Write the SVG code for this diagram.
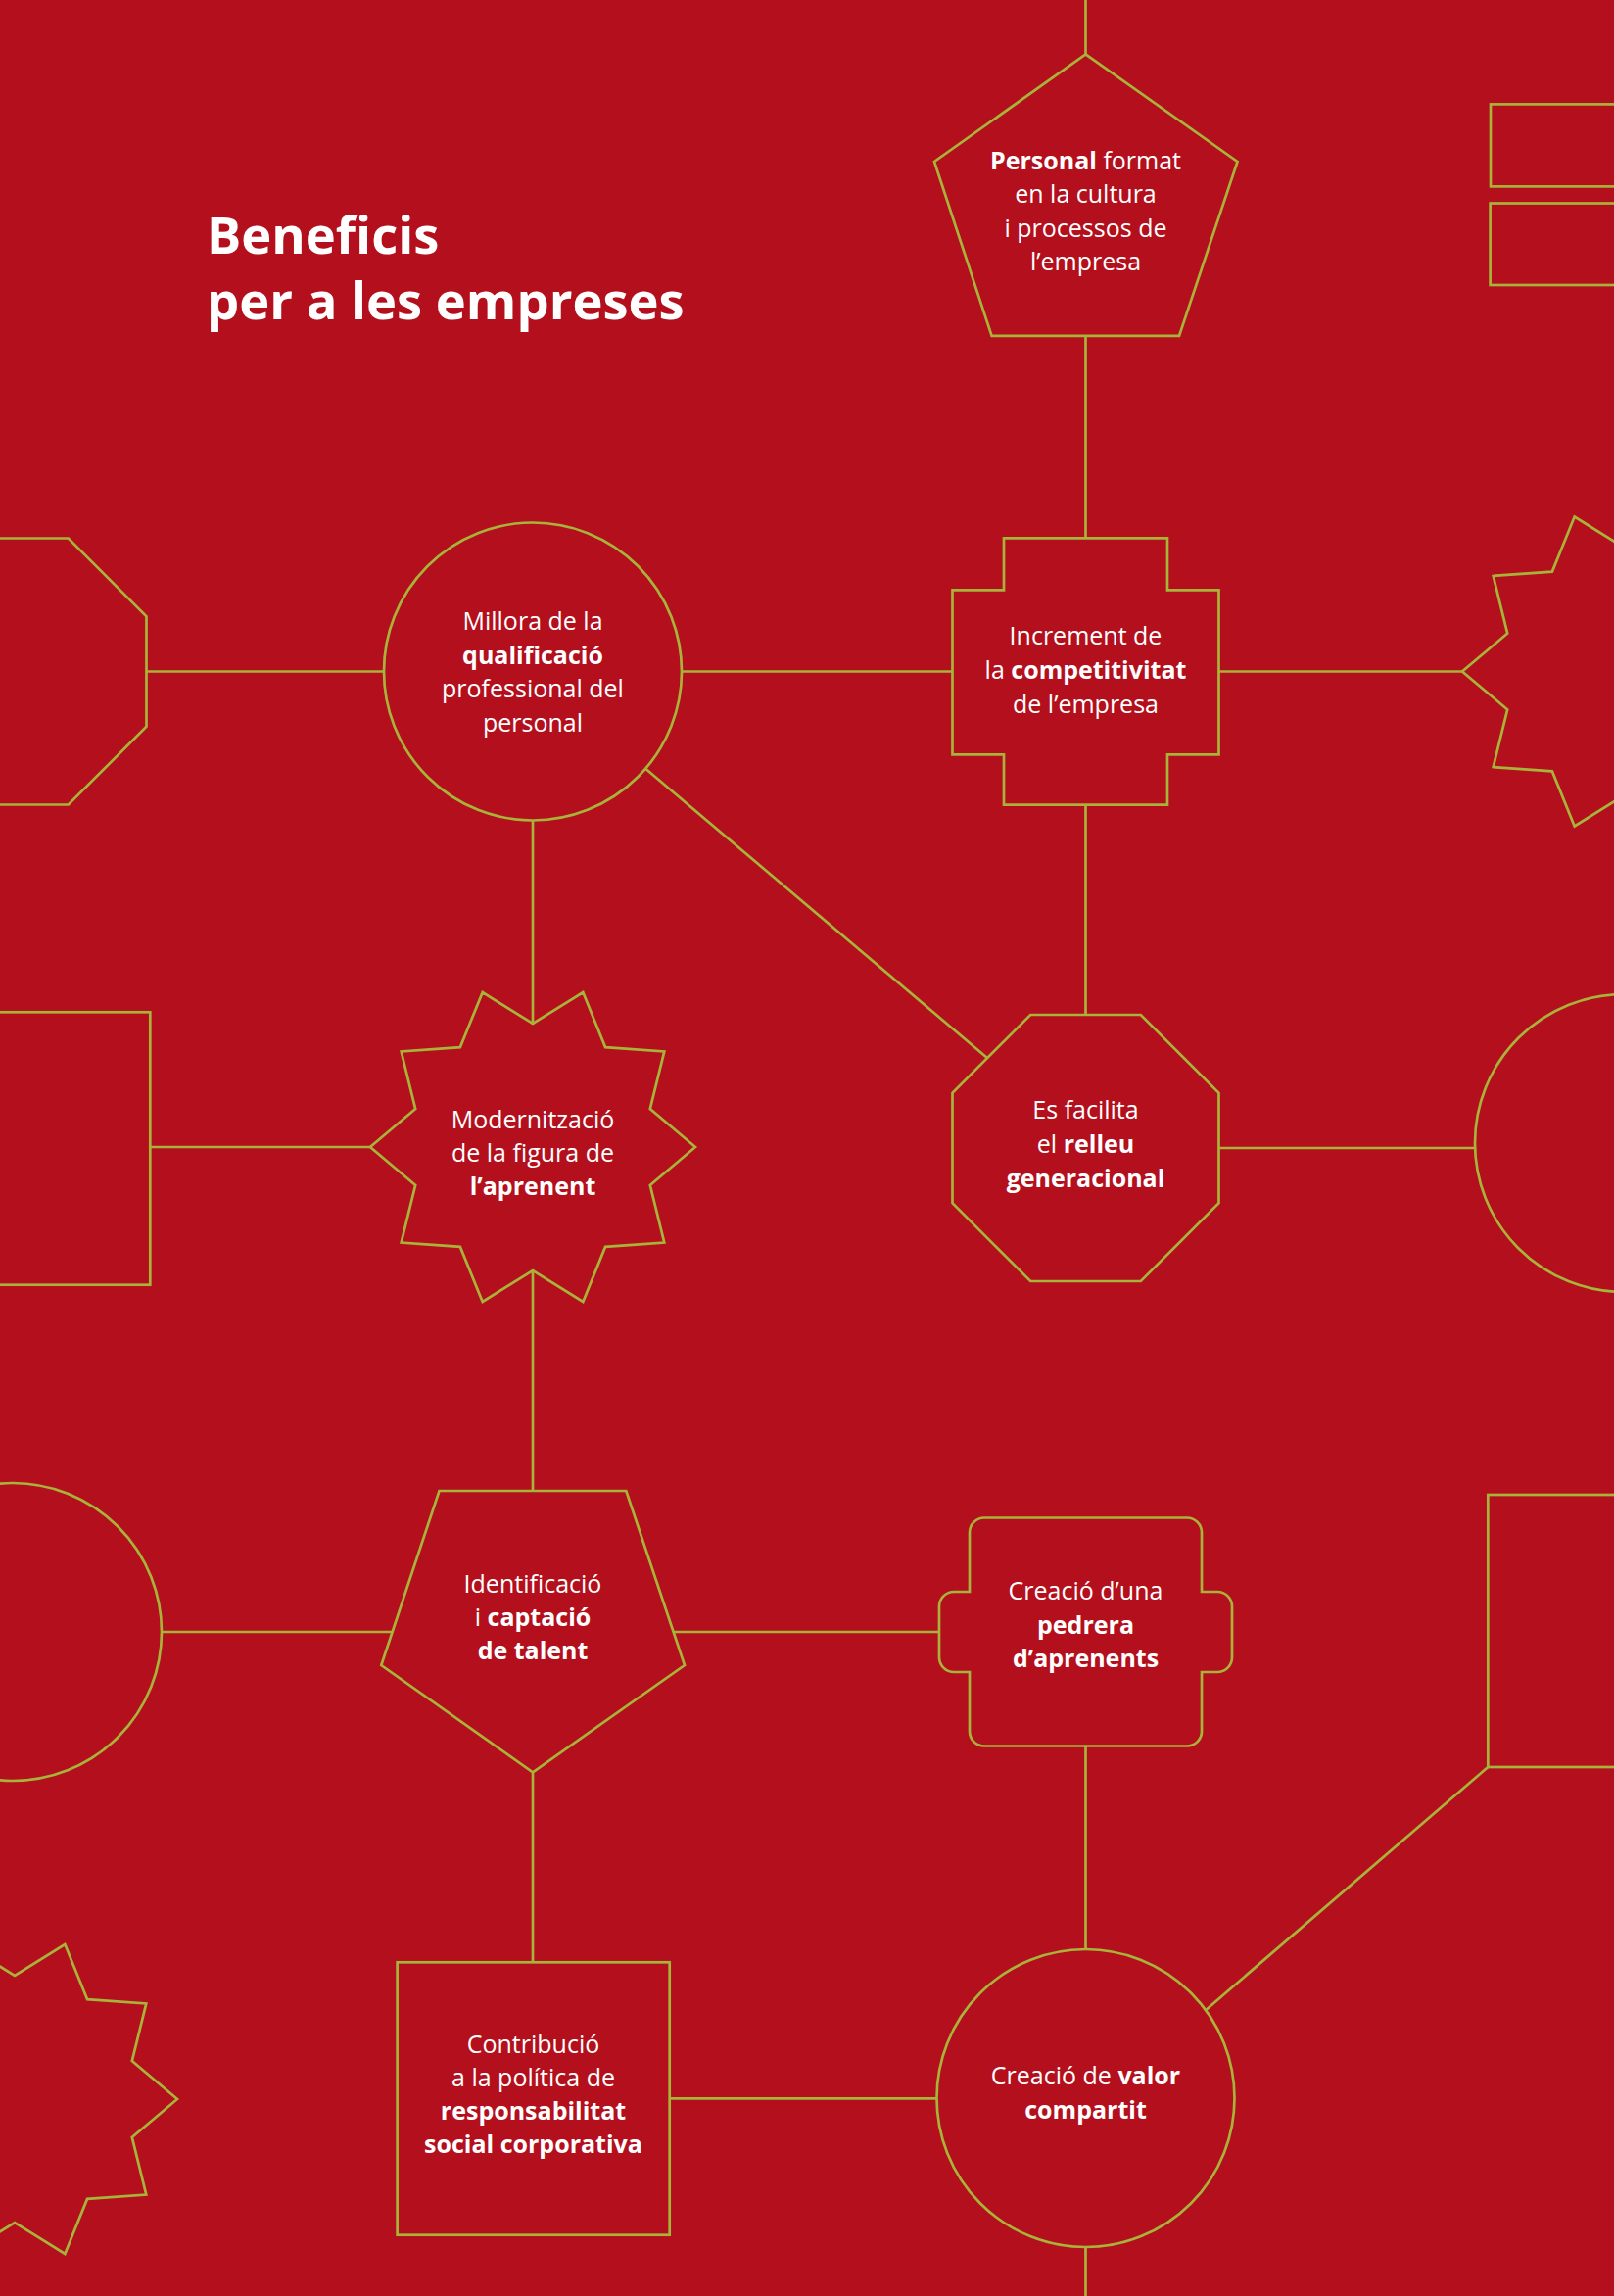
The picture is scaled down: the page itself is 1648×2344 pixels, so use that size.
<svg xmlns="http://www.w3.org/2000/svg" xmlns:xlink="http://www.w3.org/1999/xlink" width="1648" height="2344" viewBox="0 0 1648 2344">
<style>
.s{fill:none;stroke:#A9B33A;stroke-width:2.7;stroke-linejoin:miter}
.c line{stroke:#A9B33A;stroke-width:2.7}
.t{font-family:"Open Sans","Liberation Sans",sans-serif;font-size:25px;fill:#FFFFFF;text-anchor:middle}
.b{font-weight:700}
.h{font-family:"Open Sans","Liberation Sans",sans-serif;font-size:52.5px;font-weight:700;fill:#FFFFFF}
</style>
<defs>
<polygon id="star" points="166,0 119.8,38.9 134.3,97.6 74.1,101.9 51.3,157.9 0,126 -51.3,157.9 -74.1,101.9 -134.3,97.6 -119.8,38.9 -166,0 -119.8,-38.9 -134.3,-97.6 -74.1,-101.9 -51.3,-157.9 0,-126 51.3,-157.9 74.1,-101.9 134.3,-97.6 119.8,-38.9"/>
<polygon id="oct" points="-56.3,-136 56.3,-136 136,-56.3 136,56.3 56.3,136 -56.3,136 -136,56.3 -136,-56.3"/>
</defs>
<rect x="0" y="0" width="1648" height="2344" fill="#B30F1C"/>

<g class="c" id="connectors">
<line x1="1108.5" y1="0" x2="1108.5" y2="55.4"/>
<line x1="1108.5" y1="343" x2="1108.5" y2="549.3"/>
<line x1="149.5" y1="685.5" x2="392" y2="685.5"/>
<line x1="696" y1="685.5" x2="972.5" y2="685.5"/>
<line x1="1244.5" y1="685.5" x2="1493" y2="685.5"/>
<line x1="659.5" y1="785" x2="1008" y2="1080"/>
<line x1="1108.5" y1="821.7" x2="1108.5" y2="1036"/>
<line x1="544" y1="837" x2="544" y2="1046"/>
<line x1="153.3" y1="1171" x2="378" y2="1171"/>
<line x1="1244.5" y1="1172" x2="1506" y2="1172"/>
<line x1="544" y1="1298" x2="544" y2="1522"/>
<line x1="165" y1="1666" x2="400.6" y2="1666"/>
<line x1="687.6" y1="1666" x2="959" y2="1666"/>
<line x1="544" y1="1809.3" x2="544" y2="2003.3"/>
<line x1="1108.5" y1="1782.5" x2="1108.5" y2="1990"/>
<line x1="683.7" y1="2142.3" x2="956.5" y2="2142.3"/>
<line x1="1519.3" y1="1804" x2="1231.6" y2="2051.7"/>
<line x1="1108.5" y1="2294" x2="1108.5" y2="2344"/>
</g>

<g id="title">
<text class="h" x="211" y="259">Beneficis</text>
<text class="h" x="211" y="326">per a les empreses</text>
</g>

<g id="node-personal">
<polygon class="s" points="1108.5,55.4 1263.5,165 1204,342.9 1012.6,342.9 954,165"/>
<text class="t" x="1108.5" y="173"><tspan class="b">Personal</tspan> format</text>
<text class="t" x="1108.5" y="207">en la cultura</text>
<text class="t" x="1108.5" y="242">i processos de</text>
<text class="t" x="1108.5" y="276">l’empresa</text>
</g>

<g id="deco-rects-top">
<rect class="s" x="1522" y="106.4" width="200" height="84"/>
<rect class="s" x="1521.6" y="207.5" width="200" height="83.5"/>
</g>

<g id="deco-oct-left">
<use xlink:href="#oct" href="#oct" class="s" transform="translate(13.5,685.5)"/>
</g>

<g id="node-millora">
<circle class="s" cx="544" cy="685.5" r="152"/>
<text class="t" x="544" y="643">Millora de la</text>
<text class="t b" x="544" y="677.5">qualificació</text>
<text class="t" x="544" y="712">professional del</text>
<text class="t" x="544" y="746.5">personal</text>
</g>

<g id="node-increment">
<polygon class="s" points="1025,549.3 1192,549.3 1192,602.3 1244.5,602.3 1244.5,770.3 1192,770.3 1192,821.7 1025,821.7 1025,770.3 972.5,770.3 972.5,602.3 1025,602.3"/>
<text class="t" x="1108.5" y="658.3">Increment de</text>
<text class="t" x="1108.5" y="693.3">la <tspan class="b">competitivitat</tspan></text>
<text class="t" x="1108.5" y="727.7">de l’empresa</text>
</g>

<g id="deco-star-right">
<use xlink:href="#star" href="#star" class="s" transform="translate(1659,685.5)"/>
</g>

<g id="deco-rect-left">
<rect class="s" x="-130" y="1033.3" width="283.3" height="278.4"/>
</g>

<g id="node-modernitzacio">
<use xlink:href="#star" href="#star" class="s" transform="translate(544,1171)"/>
<text class="t" x="544" y="1151.5">Modernització</text>
<text class="t" x="544" y="1185.5">de la figura de</text>
<text class="t b" x="544" y="1219.5">l’aprenent</text>
</g>

<g id="node-relleu">
<use xlink:href="#oct" href="#oct" class="s" transform="translate(1108.5,1172)"/>
<text class="t" x="1108.5" y="1141.7">Es facilita</text>
<text class="t" x="1108.5" y="1176.7">el <tspan class="b">relleu</tspan></text>
<text class="t b" x="1108.5" y="1211.7">generacional</text>
</g>

<g id="deco-circle-right">
<circle class="s" cx="1658" cy="1167" r="152"/>
</g>

<g id="deco-circle-left">
<circle class="s" cx="13" cy="1666" r="152"/>
</g>

<g id="node-talent">
<polygon class="s" points="448.5,1522 639.3,1522 699,1700 544,1809.3 389.3,1700"/>
<text class="t" x="544" y="1626">Identificació</text>
<text class="t" x="544" y="1660">i <tspan class="b">captació</tspan></text>
<text class="t b" x="544" y="1694">de talent</text>
</g>

<g id="node-pedrera">
<path class="s" d="M1005,1549.5 H1212 A15,15 0 0 1 1227,1564.5 V1625 H1243 A15,15 0 0 1 1258,1640 V1692 A15,15 0 0 1 1243,1707 H1227 V1767.5 A15,15 0 0 1 1212,1782.5 H1005 A15,15 0 0 1 990,1767.5 V1707 H974 A15,15 0 0 1 959,1692 V1640 A15,15 0 0 1 974,1625 H990 V1564.5 A15,15 0 0 1 1005,1549.5 Z"/>
<text class="t" x="1108.5" y="1633.3">Creació d’una</text>
<text class="t b" x="1108.5" y="1668.3">pedrera</text>
<text class="t b" x="1108.5" y="1701.7">d’aprenents</text>
</g>

<g id="deco-rect-right">
<rect class="s" x="1519.3" y="1526" width="278" height="278"/>
</g>

<g id="deco-star-left">
<use xlink:href="#star" href="#star" class="s" transform="translate(15,2143)"/>
</g>

<g id="node-rsc">
<rect class="s" x="405.6" y="2003.3" width="278.1" height="278.4"/>
<text class="t" x="544.5" y="2095.7">Contribució</text>
<text class="t" x="544.5" y="2130">a la política de</text>
<text class="t b" x="544.5" y="2164.3">responsabilitat</text>
<text class="t b" x="544.5" y="2198.3">social corporativa</text>
</g>

<g id="node-valor">
<circle class="s" cx="1108.5" cy="2142" r="152"/>
<text class="t" x="1108.5" y="2128.3">Creació de <tspan class="b">valor</tspan></text>
<text class="t b" x="1108.5" y="2162.7">compartit</text>
</g>
</svg>
